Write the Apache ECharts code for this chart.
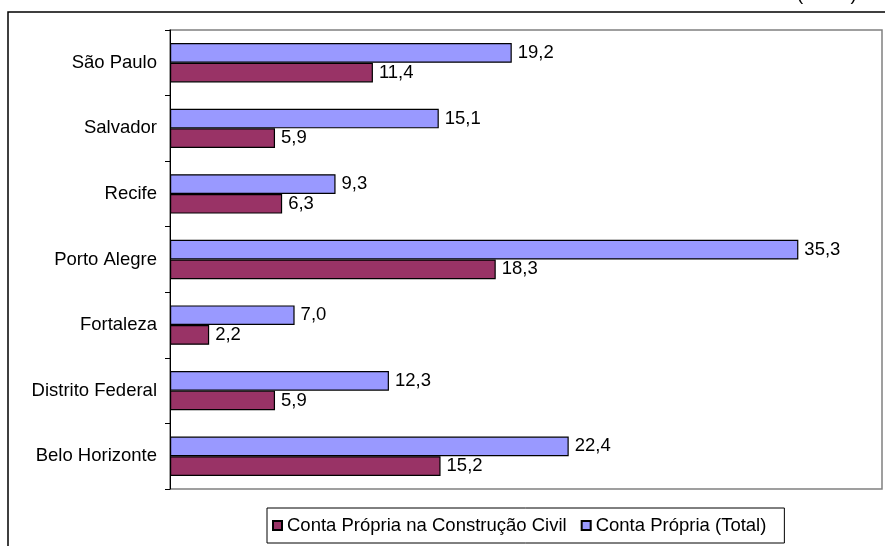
<!DOCTYPE html>
<html>
<head>
<meta charset="utf-8">
<script src="https://cdn.jsdelivr.net/npm/echarts@6/dist/echarts.min.js"></script>
<style>html,body{margin:0;padding:0;background:#fff;}#c{width:885px;height:546px;}</style>
</head>
<body>
<div id="c"></div>
<script>
var categories = ['Belo Horizonte','Distrito Federal','Fortaleza','Porto Alegre','Recife','Salvador','São Paulo'];
var construcaoCivil = [15.2, 5.9, 2.2, 18.3, 6.3, 5.9, 11.4];
var total = [22.4, 12.3, 7.0, 35.3, 9.3, 15.1, 19.2];
var seriesNames = ['Conta Própria na Construção Civil', 'Conta Própria (Total)'];
var unitText = '(em %)';

var chart = echarts.init(document.getElementById('c'), null, {renderer: 'canvas'});
var font = 'Liberation Sans, Arial, sans-serif';
var fs = 18.5;
function fmt(p){ return p.value.toFixed(1).replace('.', ','); }
chart.setOption({
  animation: false,
  backgroundColor: '#fff',
  textStyle: {fontFamily: font},
  graphic: [
    {type: 'rect', shape: {x: 8, y: 12, width: 1000, height: 700}, style: {fill: 'none', stroke: '#000', lineWidth: 1.5}, z: -1},
    {type: 'text', left: 797, top: -15, style: {text: unitText, font: fs + 'px Liberation Sans, Arial', fill: '#000'}}
  ],
  grid: {left: 170, right: 3, top: 30, bottom: 57, show: true, borderColor: '#808080', borderWidth: 1.5, backgroundColor: '#fff'},
  xAxis: {
    type: 'value', min: 0, max: 40, show: false, splitLine: {show: false}
  },
  yAxis: {
    type: 'category', data: categories,
    axisLine: {lineStyle: {color: '#000', width: 1}},
    axisTick: {show: true, inside: false, length: 5, lineStyle: {color: '#000'}},
    axisLabel: {color: '#000', fontSize: fs, fontFamily: font, margin: 13}
  },
  legend: {
    left: 267, top: 508,
    data: [seriesNames[0], seriesNames[1]],
    orient: 'horizontal',
    itemWidth: 9, itemHeight: 9, itemGap: 14,
    icon: 'rect',
    padding: [8, 18, 8, 5],
    borderColor: '#000', borderWidth: 1,
    textStyle: {color: '#000', fontSize: fs, fontFamily: font, padding: [0, 0, 0, 0]}
  },
  series: [
    {
      name: seriesNames[1], type: 'bar', data: total,
      barGap: '0%', barCategoryGap: '40%',
      itemStyle: {color: '#9999FF', borderColor: '#000', borderWidth: 1.2},
      label: {show: true, position: 'right', distance: 6, color: '#000', fontSize: fs, fontFamily: font, formatter: fmt}
    },
    {
      name: seriesNames[0], type: 'bar', data: construcaoCivil,
      barGap: '0%', barCategoryGap: '40%',
      itemStyle: {color: '#993366', borderColor: '#000', borderWidth: 1.2},
      label: {show: true, position: 'right', distance: 6, color: '#000', fontSize: fs, fontFamily: font, formatter: fmt}
    }
  ]
});
</script>
</body>
</html>
